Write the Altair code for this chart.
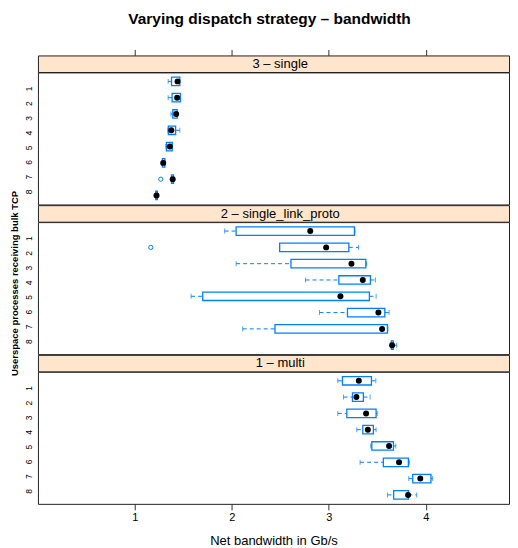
import altair as alt
import pandas as pd

FONT = "Liberation Sans"
BLUE = "#0080ff"
PEACH = "#ffe5cc"
W = 472
STRIP_H = 16.6
BODY_H = 132.3
XDOM = [0, 4.859]

rows = [1, 2, 3, 4, 5, 6, 7, 8]
tick_values = [1, 2, 3, 4]

panel_names = ["3 \u2013 single", "2 \u2013 single_link_proto", "1 \u2013 multi"]

# 3 - single
single_lo = [1.343, 1.343, 1.372, 1.340, 1.320, 1.280, 1.375, 1.212]
single_q1 = [1.378, 1.384, 1.391, 1.345, 1.325, 1.284, 1.378, 1.215]
single_med = [1.440, 1.436, 1.426, 1.376, 1.360, 1.292, 1.390, 1.223]
single_q3 = [1.463, 1.470, 1.436, 1.420, 1.385, 1.309, 1.398, 1.232]
single_hi = [1.463, 1.470, 1.436, 1.463, 1.388, 1.312, 1.402, 1.235]
single_out_rows = [7]
single_out_vals = [1.267]

# 2 - single_link_proto
slp_lo = [1.926, 2.493, 2.044, 2.760, 1.580, 2.904, 2.112, 3.640]
slp_q1 = [2.044, 2.493, 2.610, 3.104, 1.700, 3.193, 2.445, 3.645]
slp_med = [2.809, 2.973, 3.234, 3.351, 3.120, 3.512, 3.550, 3.653]
slp_q3 = [3.265, 3.207, 3.382, 3.430, 3.419, 3.578, 3.605, 3.665]
slp_hi = [3.270, 3.306, 3.390, 3.481, 3.488, 3.622, 3.610, 3.701]
slp_out_rows = [2]
slp_out_vals = [1.164]

# 1 - multi
multi_lo = [3.093, 3.152, 3.093, 3.289, 3.433, 3.323, 3.825, 3.605]
multi_q1 = [3.141, 3.244, 3.186, 3.351, 3.444, 3.563, 3.866, 3.669]
multi_med = [3.310, 3.285, 3.385, 3.403, 3.622, 3.725, 3.944, 3.818]
multi_q3 = [3.440, 3.357, 3.488, 3.460, 3.667, 3.821, 4.054, 3.821]
multi_hi = [3.485, 3.426, 3.500, 3.488, 3.691, 3.831, 4.072, 3.907]
multi_out_rows = []
multi_out_vals = []


def xscale():
    return alt.Scale(domain=XDOM, nice=False, zero=False)


def strip(label, top_axis):
    t = alt.Chart(pd.DataFrame({"label": [label]})).mark_text(
        fontSize=13, font=FONT, color="black", baseline="middle", align="center"
    ).encode(text="label:N", x=alt.value(242.8), y=alt.value(STRIP_H / 2 + 0.3))
    layers = [t]
    if top_axis:
        ax = alt.Chart(pd.DataFrame({"v": tick_values})).mark_point(opacity=0).encode(
            x=alt.X(
                "v:Q",
                scale=xscale(),
                axis=alt.Axis(
                    orient="top", values=tick_values, labels=False, domain=False,
                    tickSize=6, tickColor="#333333", tickWidth=1, grid=False, title=None,
                ),
            )
        )
        layers = [ax, t]
    return alt.layer(*layers).properties(
        width=W, height=STRIP_H,
        view=alt.ViewBackground(fill=PEACH, stroke="#222222", strokeWidth=1),
    )


def body(lo, q1, med, q3, hi, out_rows, out_vals, bottom_axis, ytitle):
    df = pd.DataFrame({"row": rows, "lo": lo, "q1": q1, "med": med, "q3": q3, "hi": hi})
    odf = pd.DataFrame({"row": out_rows, "v": out_vals})
    if bottom_axis:
        xaxis = alt.Axis(
            values=tick_values, grid=False, domain=False, tickSize=6, tickColor="#333333",
            labelFontSize=11, labelColor="black", labelPadding=1.5, labelFont=FONT,
            title="Net bandwidth in Gb/s", titleFontSize=13, titleFontWeight="normal",
            titleFont=FONT, titleColor="black", titlePadding=12.5,
        )
    else:
        xaxis = None
    ys = alt.Scale(type="point", padding=0.55)
    Y = alt.Y("row:O", scale=ys, axis=None)
    base = alt.Chart(df)
    wl = base.mark_rule(color=BLUE, strokeDash=[4, 3], strokeWidth=1).encode(
        x=alt.X("lo:Q", scale=xscale(), axis=xaxis), x2="q1:Q", y=Y)
    wh = base.mark_rule(color=BLUE, strokeDash=[4, 3], strokeWidth=1).encode(
        x=alt.X("q3:Q", scale=xscale(), axis=xaxis), x2="hi:Q", y=Y)
    cl = base.mark_tick(color=BLUE, thickness=1, size=5).encode(
        x=alt.X("lo:Q", scale=xscale(), axis=xaxis), y=Y)
    ch = base.mark_tick(color=BLUE, thickness=1, size=5).encode(
        x=alt.X("hi:Q", scale=xscale(), axis=xaxis), y=Y)
    box = base.mark_bar(size=8.5, fillOpacity=0, stroke=BLUE, strokeWidth=1.3).encode(
        x=alt.X("q1:Q", scale=xscale(), axis=xaxis), x2="q3:Q", y=Y)
    dot = base.mark_circle(size=36, color="black", opacity=1).encode(
        x=alt.X("med:Q", scale=xscale(), axis=xaxis), y=Y)
    layers = [wl, wh, cl, ch, box, dot]
    if len(out_vals):
        outl = alt.Chart(odf).mark_point(
            shape="circle", filled=False, size=18, color=BLUE, strokeWidth=1, opacity=1
        ).encode(x=alt.X("v:Q", scale=xscale(), axis=xaxis), y=Y)
        layers.append(outl)
    boxes = alt.layer(*layers)
    yaxis_kwargs = dict(
        orient="left", labelAngle=270, labelAlign="center", labelBaseline="bottom",
        labelFontSize=8.5, labelFont=FONT, labelColor="black", labelPadding=4.5,
        labelOffset=1.5, ticks=False, tickSize=0, domain=False, grid=False,
    )
    if ytitle:
        yaxis_kwargs.update(
            title=ytitle, titleFontSize=9.5, titleFontWeight="bold", titleFont=FONT,
            titleColor="black", titleAngle=270, titleAlign="center", titleBaseline="bottom",
            titleX=-18, titleY=61,
        )
    else:
        yaxis_kwargs.update(title=None)
    lab = alt.Chart(df).mark_point(opacity=0).encode(
        x=alt.X("med:Q", scale=xscale(), axis=xaxis),
        y=alt.Y("row:O", scale=alt.Scale(type="point", padding=0.99), axis=alt.Axis(**yaxis_kwargs)),
    )
    return alt.layer(boxes, lab).resolve_scale(y="independent").properties(
        width=W, height=BODY_H,
        view=alt.ViewBackground(fill="white", stroke="#222222", strokeWidth=1),
    )


s3 = strip(panel_names[0], True)
b3 = body(single_lo, single_q1, single_med, single_q3, single_hi,
          single_out_rows, single_out_vals, False, None)
s2 = strip(panel_names[1], False)
b2 = body(slp_lo, slp_q1, slp_med, slp_q3, slp_hi,
          slp_out_rows, slp_out_vals, False, "Userspace processes receiving bulk TCP")
s1 = strip(panel_names[2], False)
b1 = body(multi_lo, multi_q1, multi_med, multi_q3, multi_hi,
          multi_out_rows, multi_out_vals, True, None)

chart = alt.vconcat(s3, b3, s2, b2, s1, b1, spacing=0, bounds="flush").properties(
    title=alt.TitleParams(
        "Varying dispatch strategy \u2013 bandwidth", fontSize=15.5, fontWeight="bold",
        font=FONT, color="black", anchor="middle", frame="group", dx=-4, offset=21.5,
    ),
    padding={"left": 1, "top": 3, "right": 0, "bottom": 0},
).configure(font=FONT)

chart.save("out.html", embed_options={"renderer": "svg", "actions": False})
